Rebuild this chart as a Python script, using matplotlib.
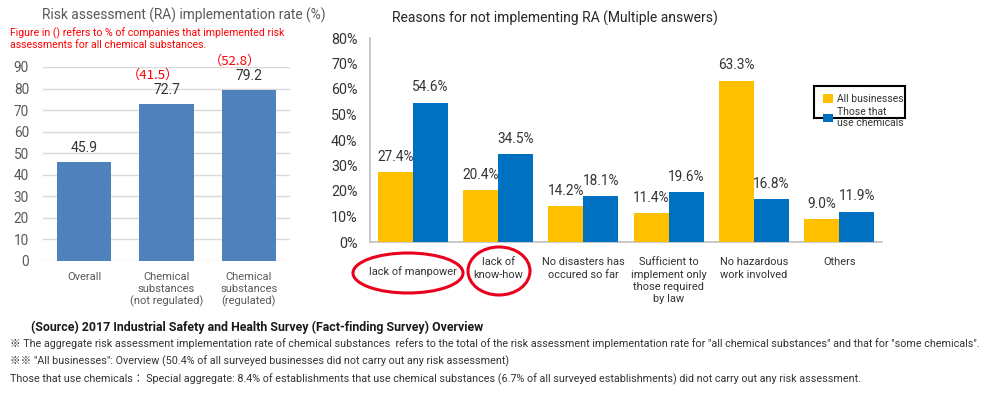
import matplotlib
matplotlib.use("Agg")
import matplotlib.pyplot as plt
import matplotlib.transforms as mtransforms
from matplotlib.patches import Rectangle, Ellipse
import numpy as np

# ---------------- data ----------------
left_title = "Risk assessment (RA) implementation rate (%)"
left_note = "Figure in () refers to % of companies that implemented risk\nassessments for all chemical substances."
left_categories = ["Overall", "Chemical\nsubstances\n(not regulated)", "Chemical\nsubstances\n(regulated)"]
left_values = [45.9, 72.7, 79.2]
left_all_chem = [None, 41.5, 52.8]
left_yticks = [0, 10, 20, 30, 40, 50, 60, 70, 80, 90]

right_title = "Reasons for not implementing RA (Multiple answers)"
right_categories = ["lack of manpower", "lack of\nknow-how", "No disasters has\noccured so far",
                    "Sufficient to\nimplement only\nthose required\nby law",
                    "No hazardous\nwork involved", "Others"]
all_businesses = [27.4, 20.4, 14.2, 11.4, 63.3, 9.0]
use_chemicals = [54.6, 34.5, 18.1, 19.6, 16.8, 11.9]
series_names = ["All businesses", "Those that\nuse chemicals"]
right_yticks = [0, 10, 20, 30, 40, 50, 60, 70, 80]

footer_lines = [
    "(Source) 2017 Industrial Safety and Health Survey (Fact-finding Survey) Overview",
    "※ The aggregate risk assessment implementation rate of chemical substances  refers to the total of the risk assessment implementation rate for \"all chemical substances\" and that for \"some chemicals\".",
    "※※ \"All businesses\": Overview (50.4% of all surveyed businesses did not carry out any risk assessment)",
    "Those that use chemicals\uff1a Special aggregate: 8.4% of establishments that use chemical substances (6.7% of all surveyed establishments) did not carry out any risk assessment.",
]

# ---------------- style ----------------
plt.rcParams['font.family'] = ['Roboto', 'Noto Sans CJK JP', 'DejaVu Sans']
W, H = 1000, 398
fig = plt.figure(figsize=(W / 100, H / 100), dpi=100)
fig.patch.set_facecolor("white")

def fx(px):
    return px / W

def fy(py):
    return 1 - py / H

GRAY = "#595959"
RED = "#FF0000"

# ---------------- left chart ----------------
axL = fig.add_axes([fx(43), fy(261), fx(290) - fx(43), fy(67) - fy(261)])
xl = np.arange(len(left_categories))
barsL = axL.bar(xl, left_values, width=0.66, color="#4F81BD", zorder=3)
axL.set_xlim(-0.5, len(left_categories) - 0.5)
axL.set_ylim(0, 90)
axL.set_yticks(left_yticks)
axL.yaxis.grid(True, color="#D9D9D9", linewidth=1, zorder=0)
for s in axL.spines.values():
    s.set_visible(False)
axL.tick_params(axis="y", length=0, pad=10, labelsize=9.8, labelcolor=GRAY)
axL.tick_params(axis="x", length=0, pad=8, labelsize=8, labelcolor=GRAY)
axL.set_xticks(xl)
axL.set_xticklabels(left_categories, linespacing=1.2)
for xi, v, r in zip(xl, left_values, left_all_chem):
    axL.annotate(f"{v:.1f}", (xi, v), xytext=(0, 10), textcoords="offset points",
                 ha="center", va="center", fontsize=10, color="#333333")
    if r is not None:
        axL.annotate(f"\uff08{r:.1f}\uff09", (xi, v), xytext=(-10, 21), textcoords="offset points",
                     ha="center", va="center", fontsize=9.5, color=RED,
                     family=['Noto Sans CJK JP', 'DejaVu Sans'])

fig.text(fx(42), fy(15), left_title, fontsize=9.9, color=GRAY, va="center", ha="left")
fig.text(fx(10), fy(39), left_note, fontsize=7.6, color=RED, va="center", ha="left",
         linespacing=1.15)

# ---------------- right chart ----------------
axR = fig.add_axes([fx(370), fy(242), fx(882) - fx(370), fy(38) - fy(242)])
xr = np.arange(len(right_categories))
bw = 0.41
b1 = axR.bar(xr - bw / 2, all_businesses, width=bw, color="#FFC000", zorder=3, label=series_names[0])
b2 = axR.bar(xr + bw / 2, use_chemicals, width=bw, color="#0070C0", zorder=3, label=series_names[1])
axR.set_xlim(-0.5, len(right_categories) - 0.5)
axR.set_ylim(0, 80)
axR.set_yticks(right_yticks)
axR.set_yticklabels([f"{t}%" for t in right_yticks])
for k in ["top", "right"]:
    axR.spines[k].set_visible(False)
axR.spines["left"].set_color("#BFBFBF")
axR.spines["bottom"].set_color("#BFBFBF")
axR.spines["left"].set_linewidth(1.2)
axR.spines["bottom"].set_linewidth(1.2)
axR.tick_params(axis="y", length=0, pad=9, labelsize=10.3, labelcolor="#333333")
axR.tick_params(axis="x", length=0, pad=11, labelsize=7.9, labelcolor="#333333")
axR.set_xticks(xr)
axR.set_xticklabels(right_categories, linespacing=1.3)
# first label sits a bit lower inside its ellipse
lbl0 = axR.get_xticklabels()[0]
lbl0.set_transform(lbl0.get_transform() +
                   mtransforms.ScaledTranslation(0, -9 / 100, fig.dpi_scale_trans))
for bars, vals in ((b1, all_businesses), (b2, use_chemicals)):
    for rect, v in zip(bars, vals):
        axR.annotate(f"{v:.1f}%", (rect.get_x() + rect.get_width() / 2, v), xytext=(0, 11),
                     textcoords="offset points", ha="center", va="center", fontsize=9.8,
                     color="#333333")

fig.text(fx(392), fy(18), right_title, fontsize=10, color="#262626", va="center", ha="left")

leg = fig.legend(handles=[b1, b2], labels=series_names, loc="upper left",
                 bbox_to_anchor=(fx(816), fy(87)), frameon=False, fontsize=7.5,
                 handlelength=0.9, handleheight=0.9, handletextpad=0.45,
                 labelspacing=0.25, borderpad=0.2, labelcolor="#333333")
fig.patches.append(Rectangle((fx(814), fy(118)), fx(905) - fx(814), fy(86) - fy(118),
                             transform=fig.transFigure, fill=False, edgecolor="black",
                             linewidth=1.5))

# red ellipses
for (cx, cy, w, h) in [(408, 273, 110, 40), (499, 271, 62, 48)]:
    fig.patches.append(Ellipse((fx(cx), fy(cy)), fx(w), h / H, transform=fig.transFigure,
                               fill=False, edgecolor="#E8001C", linewidth=2.2))

# ---------------- footer ----------------
foot_fam = ['Roboto', 'Noto Sans CJK JP', 'DejaVu Sans']
fig.text(fx(31), fy(327), footer_lines[0], fontsize=8.9, fontweight="bold", color="#1a1a1a",
         va="center", ha="left", family=foot_fam)
for line, y in zip(footer_lines[1:], [344, 361, 379]):
    fig.text(fx(10), fy(y), line, fontsize=7.75, color="#333333", va="center", ha="left",
             family=foot_fam)

fig.savefig("out.png", dpi=100, facecolor="white")
